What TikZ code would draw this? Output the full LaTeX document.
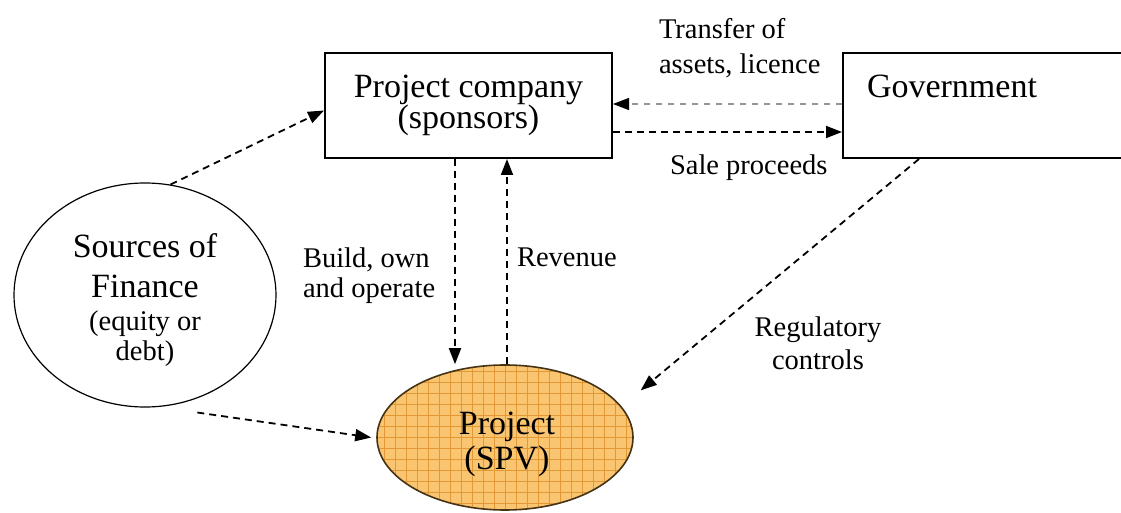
\documentclass[tikz,border=0pt]{standalone}
\usepackage{fontspec}
\setmainfont{Liberation Serif}
\usetikzlibrary{arrows.meta,shapes.geometric}

\definecolor{spvfill}{RGB}{250,197,112}
\definecolor{spvgrid}{RGB}{226,152,52}
\definecolor{spvedge}{RGB}{70,50,20}
\definecolor{lightflow}{RGB}{150,150,150}

\newcommand{\bigfont}{\fontsize{17}{20}\selectfont}
\newcommand{\labfont}{\fontsize{14.25}{17}\selectfont}

\begin{document}
\begin{tikzpicture}[x=0.5pt,y=-0.5pt,
  boxnode/.style={draw, line width=1pt, rectangle, inner sep=0pt,
    minimum width=143.5pt, minimum height=52.5pt},
  txt/.style={inner sep=0pt, outer sep=0pt},
  flow/.style={line width=0.9pt, dash pattern=on 3.5pt off 2.5pt,
    -{Triangle[length=8pt,width=6pt,color=black]}},
  faint/.style={flow, draw=lightflow, line width=0.6pt, dash pattern=on 3pt off 3pt}]

\useasboundingbox (0,0) rectangle (1121,513);

% boxes
\node[boxnode, font=\bigfont, align=center] (pc) at (468.5,105.5)
  {Project company\\[-4.5pt](sponsors)};
\node[boxnode] (gov) at (986.5,105.5) {};
\node[txt, font=\bigfont, anchor=base west] (govlbl) at (867,98) {Government};

% sources of finance
\node[ellipse, draw, line width=0.6pt, minimum width=131pt, minimum height=112pt,
  inner sep=0pt] (src) at (145,295) {};
\node[txt, font=\bigfont, align=center] (srclbl) at (145,300)
  {Sources of\\Finance\\[-3.5pt]{\labfont (equity or}\\[-5pt]{\labfont debt)}};

% the project vehicle, hatched with a fine grid
\node[ellipse, draw=spvedge, line width=0.8pt, fill=spvfill, inner sep=0pt,
  minimum width=128pt, minimum height=72.5pt,
  path picture={
    \foreach \k in {-12,...,12}
      \draw[spvgrid, line width=0.4pt]
        ([xshift=\k*5.5pt]path picture bounding box.south) --
        ([xshift=\k*5.5pt]path picture bounding box.north);
    \foreach \k in {-7,...,7}
      \draw[spvgrid, line width=0.4pt]
        ([yshift=\k*5.5pt]path picture bounding box.west) --
        ([yshift=\k*5.5pt]path picture bounding box.east);
  }] (spv) at (505,437.5) {};
\node[txt, font=\bigfont, align=center] (spvlbl) at (507,444.5)
  {Project\\[-2.5pt](SPV)};

% flow labels
\node[txt, font=\labfont, align=left, anchor=west] (transfer) at (659,48)
  {Transfer of\\[0.5pt]assets, licence};
\node[txt, font=\labfont, anchor=base west] (sale) at (670,174.5) {Sale proceeds};
\node[txt, font=\labfont, align=left, anchor=west] (build) at (303,275.3)
  {Build, own\\[-2pt]and operate};
\node[txt, font=\labfont, anchor=base west] (revenue) at (517,267) {Revenue};
\node[txt, font=\labfont, align=center] (regulatory) at (818,343.7)
  {Regulatory\\[-0.5pt]controls};

% connectors
\coordinate (buildtop) at ([xshift=-6.75pt]pc.south);
\coordinate (revbase) at ([xshift=1pt]spv.north);

\draw[flow] (src.77) -- ([yshift=-2.5pt]pc.west);
\draw[flow, shorten <=19.5pt] (src.-83) -- ([xshift=-2.5pt]spv.west);
\draw[flow] (buildtop) -- (buildtop |- spv.north);
\draw[flow] (revbase) -- (revbase |- pc.south);
\draw[faint] ([yshift=0.75pt]gov.west) -- ([yshift=0.75pt]pc.east);
\draw[flow] ([yshift=-13.25pt]pc.east) -- ([yshift=-13.25pt]gov.west);
\draw[flow, shorten >=12.5pt] ([xshift=38.5pt]gov.south west) -- (spv.15);

\end{tikzpicture}
\end{document}
